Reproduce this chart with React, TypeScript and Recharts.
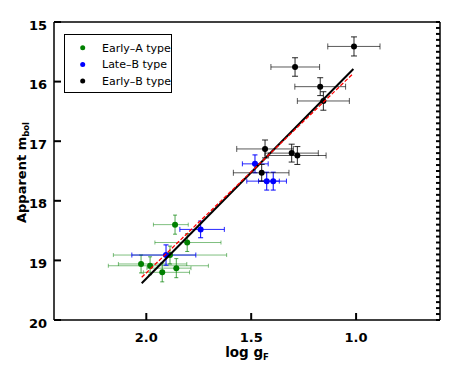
import React from 'react';
import { ScatterChart, Scatter, XAxis, YAxis, ErrorBar, Legend, Label } from 'recharts';

// points: x = log gF, y = apparent m_bol, ex = [low, high] in log gF, ey = mag error
const earlyA = [
  { x: 1.863, y: 18.40, ex: [0.063, 0.103], ey: 0.16 },
  { x: 1.805, y: 18.70, ex: [0.161, 0.154], ey: 0.15 },
  { x: 1.887, y: 18.91, ex: [0.27, 0.27], ey: 0.15 },
  { x: 2.025, y: 19.06, ex: [0.218, 0.108], ey: 0.15 },
  { x: 1.982, y: 19.09, ex: [0.278, 0.199], ey: 0.15 },
  { x: 1.924, y: 19.20, ex: [0.13, 0.09], ey: 0.16 },
  { x: 1.857, y: 19.13, ex: [0.07, 0.14], ey: 0.16 },
];

const lateB = [
  { x: 1.741, y: 18.48, ex: [0.113, 0.099], ey: 0.14 },
  { x: 1.906, y: 18.91, ex: [0.142, 0.163], ey: 0.17 },
  { x: 1.482, y: 17.38, ex: [0.063, 0.06], ey: 0.15 },
  { x: 1.426, y: 17.67, ex: [0.06, 0.095], ey: 0.15 },
  { x: 1.395, y: 17.67, ex: [0.063, 0.07], ey: 0.15 },
];

const earlyB = [
  { x: 1.010, y: 15.41, ex: [0.124, 0.125], ey: 0.16 },
  { x: 1.291, y: 15.755, ex: [0.117, 0.115], ey: 0.155 },
  { x: 1.171, y: 16.085, ex: [0.121, 0.121], ey: 0.15 },
  { x: 1.156, y: 16.325, ex: [0.124, 0.124], ey: 0.155 },
  { x: 1.434, y: 17.13, ex: [0.135, 0.135], ey: 0.15 },
  { x: 1.307, y: 17.20, ex: [0.127, 0.127], ey: 0.15 },
  { x: 1.280, y: 17.24, ex: [0.137, 0.137], ey: 0.15 },
  { x: 1.450, y: 17.53, ex: [0.13, 0.135], ey: 0.14 },
];

const fitSolid = [
  { x: 2.022, y: 19.384 },
  { x: 1.013, y: 15.789 },
];

const fitDashed = [
  { x: 2.022, y: 19.284 },
  { x: 1.013, y: 15.861 },
];

const xMajorTicks = [1.0, 1.5, 2.0];
const xMinorTicks = [0.7, 0.8, 0.9, 1.0, 1.1, 1.2, 1.3, 1.4, 1.5, 1.6, 1.7, 1.8, 1.9, 2.0, 2.1, 2.2, 2.3, 2.4];
const yMajorTicks = [15, 16, 17, 18, 19, 20];
const yMinorTicks = Array.from({ length: 51 }, (_, i) => 15 + i / 10);

const groups = [
  { name: 'Early\u2013A type', color: '#008000', data: earlyA, barOpacity: 0.5, cap: 2 },
  { name: 'Late\u2013B type', color: '#0000ff', data: lateB, barOpacity: 0.85, cap: 2.5 },
  { name: 'Early\u2013B type', color: '#000000', data: earlyB, barOpacity: 0.65, cap: 3 },
];

const FONT = '"DejaVu Sans", sans-serif';
const TW = 2; // tick stroke width

// inward tick marks drawn by the axes themselves (matplotlib style)
const bottomTick = (len: number, label: boolean) => (p: any) => (
  <g>
    <line x1={p.x} x2={p.x} y1={p.y - len} y2={p.y} stroke="#000" strokeWidth={TW} />
    {label && (
      <text x={p.x} y={p.y + 22} textAnchor="middle" fontFamily={FONT} fontSize={13} fontWeight="bold" fill="#000">
        {Number(p.payload.value).toFixed(1)}
      </text>
    )}
  </g>
);

const topTick = (len: number) => (p: any) => (
  <line x1={p.x} x2={p.x} y1={p.y} y2={p.y + len} stroke="#000" strokeWidth={TW} />
);

const leftTick = (len: number, label: boolean) => (p: any) => (
  <g>
    <line x1={p.x} x2={p.x + len} y1={p.y} y2={p.y} stroke="#000" strokeWidth={TW} />
    {label && (
      <text x={p.x - 7} y={p.y + 7.5} textAnchor="end" fontFamily={FONT} fontSize={13} fontWeight="bold" fill="#000">
        {p.payload.value}
      </text>
    )}
  </g>
);

const rightTick = (len: number) => (p: any) => (
  <line x1={p.x - len} x2={p.x} y1={p.y} y2={p.y} stroke="#000" strokeWidth={TW} />
);

const LegendBox = () => (
  <svg width={108} height={59} style={{ display: 'block' }}>
    <rect x={0.5} y={0.5} width={107} height={58} fill="#fff" stroke="#000" strokeWidth={1} />
    {groups.map((g, i) => (
      <g key={g.name}>
        <circle cx={18.7} cy={13.7 + i * 16.7} r={2.5} fill={g.color} />
        <text x={38} y={17.7 + i * 16.7} fontFamily={FONT} fontSize={11} fill="#000">
          {g.name}
        </text>
      </g>
    ))}
  </svg>
);

const noShape = () => <g />;
const frame = { stroke: '#000', strokeWidth: 1.5 };
const xDomain = [0.6, 2.44];
const yDomain = [15, 20];

export default function App() {
  return (
    <div style={{ position: 'absolute', left: 0, top: 0, background: '#fff' }}>
      <ScatterChart width={460} height={372} margin={{ top: 21, right: 19, bottom: 51, left: 53 }}>
        <XAxis
          xAxisId="x"
          type="number"
          dataKey="x"
          domain={xDomain}
          reversed
          allowDataOverflow
          height={1}
          ticks={xMajorTicks}
          tick={bottomTick(7, true)}
          tickSize={0}
          tickMargin={0}
          tickLine={false}
          axisLine={frame}
          interval={0}
        >
          <Label
            content={() => (
              <text x={247} y={357} textAnchor="middle" fontFamily={FONT} fontSize={13.5} fontWeight="bold" fill="#000">
                log g
                <tspan fontSize={8.5} dy={3}>F</tspan>
              </text>
            )}
          />
        </XAxis>
        <XAxis xAxisId="xTop" orientation="top" type="number" domain={xDomain} reversed allowDataOverflow
          height={1} ticks={xMinorTicks} tick={topTick(4)} tickSize={0} tickMargin={0} tickLine={false}
          axisLine={frame} interval={0} />

        <YAxis
          yAxisId="y"
          type="number"
          dataKey="y"
          domain={yDomain}
          reversed
          allowDataOverflow
          width={1}
          ticks={yMajorTicks}
          tick={leftTick(7, true)}
          tickSize={0}
          tickMargin={0}
          tickLine={false}
          axisLine={frame}
          interval={0}
        >
          <Label
            content={() => (
              <text x={26} y={172.5} transform="rotate(-90, 26, 172.5)" textAnchor="middle" fontFamily={FONT}
                fontSize={13} fontWeight="bold" fill="#000">
                Apparent m
                <tspan fontSize={8.5} dy={3}>bol</tspan>
              </text>
            )}
          />
        </YAxis>
        <YAxis yAxisId="yRight" orientation="right" type="number" domain={yDomain} reversed allowDataOverflow
          width={1} ticks={yMinorTicks} tick={rightTick(4)} tickSize={0} tickMargin={0} tickLine={false}
          axisLine={frame} interval={0} />

        <Legend
          verticalAlign="middle"
          align="center"
          layout="horizontal"
          width={108}
          height={59}
          wrapperStyle={{ left: 64, top: 34, width: 108, height: 59 }}
          content={<LegendBox />}
        />

        {groups.map((g) => (
          <Scatter
            key={g.name}
            name={g.name}
            data={g.data}
            xAxisId="x"
            yAxisId="y"
            fill={g.color}
            isAnimationActive={false}
            shape={(p: any) => <circle cx={p.cx} cy={p.cy} r={3} fill={g.color} />}
          >
            <ErrorBar dataKey="ex" direction="x" width={g.cap} stroke={g.color} strokeOpacity={g.barOpacity}
              strokeWidth={1} isAnimationActive={false} />
            <ErrorBar dataKey="ey" direction="y" width={g.cap} stroke={g.color} strokeOpacity={Math.min(1, g.barOpacity + 0.2)}
              strokeWidth={1} isAnimationActive={false} />
          </Scatter>
        ))}

        <Scatter
          name="fit"
          data={fitSolid}
          xAxisId="x"
          yAxisId="y"
          line={{ stroke: '#000', strokeWidth: 2 }}
          shape={noShape}
          legendType="none"
          isAnimationActive={false}
        />
        <Scatter
          name="fit2"
          data={fitDashed}
          xAxisId="x"
          yAxisId="y"
          line={{ stroke: '#ff0000', strokeWidth: 1.3, strokeDasharray: '4 2' }}
          shape={noShape}
          legendType="none"
          isAnimationActive={false}
        />
      </ScatterChart>
    </div>
  );
}
